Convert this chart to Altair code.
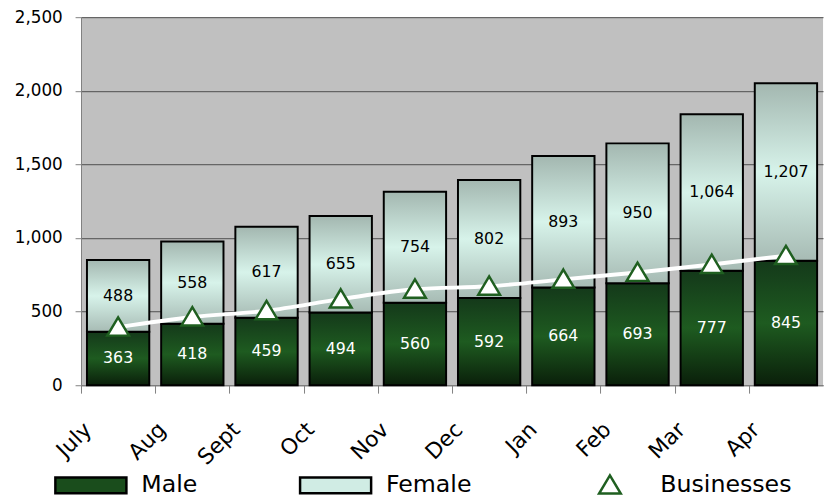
import altair as alt
import pandas as pd

months = ["July", "Aug", "Sept", "Oct", "Nov", "Dec", "Jan", "Feb", "Mar", "Apr"]
male = [363, 418, 459, 494, 560, 592, 664, 693, 777, 845]
female = [488, 558, 617, 655, 754, 802, 893, 950, 1064, 1207]
businesses = [394, 463, 506, 585, 652, 672, 719, 766, 820, 880]
series_names = ["Male", "Female", "Businesses"]
y_ticks = [0, 500, 1000, 1500, 2000, 2500]

df = pd.DataFrame({
    "month": months,
    "male": male,
    "female": female,
    "businesses": businesses,
    "series": ["Businesses"] * len(months),
})

LEG_FONT = "DejaVu Sans"
NUM_FONT = "DejaVu Sans"

male_grad = alt.LinearGradient(
    gradient="linear", x1=0, y1=0, x2=0, y2=1,
    stops=[alt.GradientStop(color="#14391a", offset=0),
           alt.GradientStop(color="#1e5b20", offset=0.5),
           alt.GradientStop(color="#0a1f0a", offset=1)])
female_grad = alt.LinearGradient(
    gradient="linear", x1=0, y1=0, x2=0, y2=1,
    stops=[alt.GradientStop(color="#a3b7b0", offset=0),
           alt.GradientStop(color="#d7f3ea", offset=0.5),
           alt.GradientStop(color="#a7bbb4", offset=1)])

x_enc = alt.X(
    "month:N", sort=months, title=None,
    scale=alt.Scale(paddingInner=0.16, paddingOuter=0.08),
    axis=alt.Axis(bandPosition=0, tickOffset=-6, labelOffset=-25,
                  labelAngle=-45, labelAlign="right", labelBaseline="middle",
                  labelFont=LEG_FONT, labelFontSize=22, labelPadding=33,
                  tickSize=8, tickColor="#808080", domainColor="#808080",
                  labelColor="black"))

y_scale = alt.Scale(domain=[0, 2500])
y_axis = alt.Axis(values=y_ticks, format=",d", title=None, labelFont=NUM_FONT,
                  labelFontSize=17, labelColor="black", tickSize=6, labelPadding=13,
                  grid=True, gridColor="#4d4d4d", gridWidth=1,
                  domainColor="#808080", tickColor="#808080")

base = alt.Chart(df).transform_calculate(
    total="datum.male + datum.female",
    male_mid="datum.male / 2",
    female_mid="datum.male + datum.female / 2",
)

male_bars = base.mark_bar(color=male_grad, stroke="black", strokeWidth=2).encode(
    x=x_enc, y=alt.Y("male:Q", scale=y_scale, axis=y_axis, stack=None))
female_bars = base.mark_bar(color=female_grad, stroke="black", strokeWidth=2).encode(
    x=x_enc, y=alt.Y("male:Q", scale=y_scale, axis=y_axis), y2="total:Q")

male_text = base.mark_text(color="white", fontSize=16, font=NUM_FONT).encode(
    x=x_enc, y=alt.Y("male_mid:Q", scale=y_scale, axis=y_axis),
    text=alt.Text("male:Q", format=","))
female_text = base.mark_text(color="black", fontSize=16, font=NUM_FONT).encode(
    x=x_enc, y=alt.Y("female_mid:Q", scale=y_scale, axis=y_axis),
    text=alt.Text("female:Q", format=","))

line = base.mark_line(color="white", strokeWidth=4, interpolate="monotone").encode(
    x=x_enc, y=alt.Y("businesses:Q", scale=y_scale, axis=y_axis))

RECT = "M-3.6,-0.8H3.6V0.8H-3.6Z"
TRI = "M-3.6,0M3.6,0M0,-1L1.1,0.85L-1.1,0.85Z"

legend = alt.Legend(title=None, orient="none", legendX=-2, legendY=462,
                    direction="horizontal", labelFont=LEG_FONT, labelFontSize=24,
                    labelColor="black", labelOffset=39, columnPadding=99,
                    symbolSize=400, symbolStrokeWidth=2.5, symbolOpacity=1,
                    padding=0)

points = base.mark_point(size=400, strokeWidth=2.5, opacity=1).encode(
    x=x_enc, y=alt.Y("businesses:Q", scale=y_scale, axis=y_axis),
    fill=alt.Fill("series:N", scale=alt.Scale(domain=series_names,
                  range=["#1a4d1c", "#d0ece4", "white"]), legend=legend),
    stroke=alt.Stroke("series:N", scale=alt.Scale(domain=series_names,
                      range=["black", "black", "#1f5f20"]), legend=legend),
    shape=alt.Shape("series:N", scale=alt.Scale(domain=series_names,
                    range=[RECT, RECT, TRI]), legend=legend),
)

chart = alt.layer(male_bars, female_bars, line, points, male_text, female_text).properties(
    width=752, height=373,
    padding={"left": 6, "top": -3, "right": 0, "bottom": 0},
).configure_view(fill="#C0C0C0", stroke=None)

chart.save("out.html", embed_options={"renderer": "svg", "actions": False})
